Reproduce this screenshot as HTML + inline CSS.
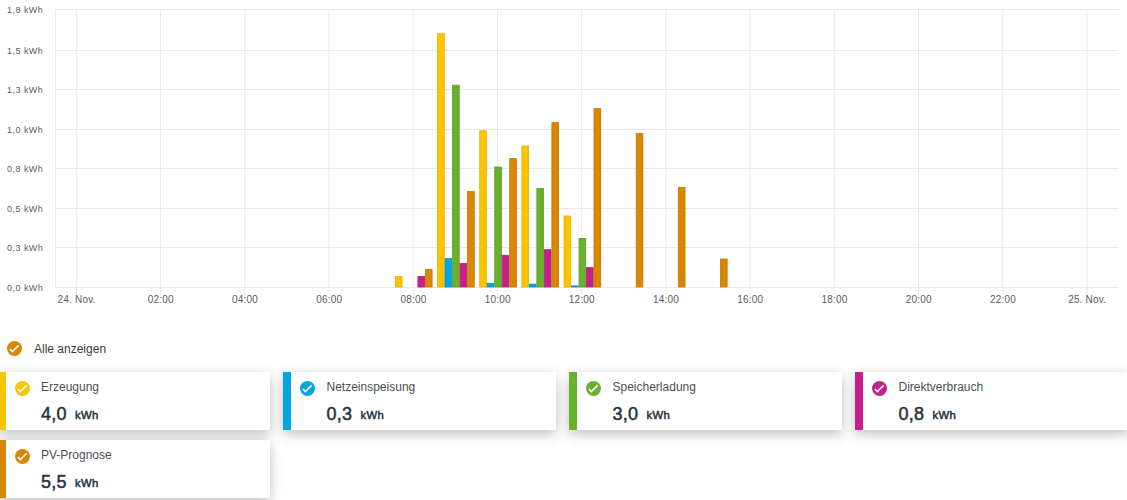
<!DOCTYPE html>
<html><head><meta charset="utf-8">
<style>
html,body{margin:0;padding:0;background:#fff;}
body{width:1127px;height:500px;position:relative;overflow:hidden;font-family:"Liberation Sans",sans-serif;}
#chart{position:absolute;left:0;top:0;}
.al{font-family:"Liberation Sans",sans-serif;font-size:10px;letter-spacing:0.2px;fill:#5b5b5b;}
.yl{font-size:9px;letter-spacing:0.45px;}
.legend{position:absolute;left:7px;top:341px;height:15px;}
.legend .chk{left:0;top:0;}
.legend .lt{position:absolute;left:27px;top:1px;font-size:12px;line-height:15px;color:#3c3c3c;white-space:nowrap;}
.chk{position:absolute;display:block;}
.card{position:absolute;width:273px;height:58px;background:#fff;box-shadow:0 6px 12px rgba(0,0,0,0.18), 0 0 10px rgba(0,0,0,0.08);}
.card .bar{position:absolute;left:0;top:0;width:8px;height:58px;}
.card .ttl{position:absolute;left:43.5px;top:8px;font-size:12px;line-height:15px;color:#4a4f55;white-space:nowrap;}
.card .val{position:absolute;left:43.5px;top:32px;font-size:18px;line-height:20px;font-weight:normal;letter-spacing:0.3px;-webkit-text-stroke:0.5px #263340;color:#263340;white-space:nowrap;}
.card .unit{font-size:11.3px;letter-spacing:0.35px;margin-left:8px;font-weight:normal;-webkit-text-stroke:0.5px #263340;position:relative;top:-1px;}
</style></head><body>
<svg id="chart" width="1127" height="320" viewBox="0 0 1127 320">
<line x1="55" y1="9.5" x2="1118.5" y2="9.5" stroke="#e8e8e8" stroke-width="1"/>
<line x1="55" y1="50.5" x2="1118.5" y2="50.5" stroke="#e8e8e8" stroke-width="1"/>
<line x1="55" y1="89.5" x2="1118.5" y2="89.5" stroke="#e8e8e8" stroke-width="1"/>
<line x1="55" y1="129.5" x2="1118.5" y2="129.5" stroke="#e8e8e8" stroke-width="1"/>
<line x1="55" y1="168.5" x2="1118.5" y2="168.5" stroke="#e8e8e8" stroke-width="1"/>
<line x1="55" y1="208.5" x2="1118.5" y2="208.5" stroke="#e8e8e8" stroke-width="1"/>
<line x1="55" y1="247.5" x2="1118.5" y2="247.5" stroke="#e8e8e8" stroke-width="1"/>
<line x1="55" y1="287.5" x2="1118.5" y2="287.5" stroke="#e8e8e8" stroke-width="1"/>
<line x1="55.5" y1="9.4" x2="55.5" y2="287.8" stroke="#e8e8e8" stroke-width="1"/>
<line x1="76.32" y1="9.4" x2="76.32" y2="294.5" stroke="#e8e8e8" stroke-width="1"/>
<line x1="160.54" y1="9.4" x2="160.54" y2="294.5" stroke="#e8e8e8" stroke-width="1"/>
<line x1="244.76" y1="9.4" x2="244.76" y2="294.5" stroke="#e8e8e8" stroke-width="1"/>
<line x1="328.98" y1="9.4" x2="328.98" y2="294.5" stroke="#e8e8e8" stroke-width="1"/>
<line x1="413.2" y1="9.4" x2="413.2" y2="294.5" stroke="#e8e8e8" stroke-width="1"/>
<line x1="497.42" y1="9.4" x2="497.42" y2="294.5" stroke="#e8e8e8" stroke-width="1"/>
<line x1="581.64" y1="9.4" x2="581.64" y2="294.5" stroke="#e8e8e8" stroke-width="1"/>
<line x1="665.86" y1="9.4" x2="665.86" y2="294.5" stroke="#e8e8e8" stroke-width="1"/>
<line x1="750.08" y1="9.4" x2="750.08" y2="294.5" stroke="#e8e8e8" stroke-width="1"/>
<line x1="834.3" y1="9.4" x2="834.3" y2="294.5" stroke="#e8e8e8" stroke-width="1"/>
<line x1="918.52" y1="9.4" x2="918.52" y2="294.5" stroke="#e8e8e8" stroke-width="1"/>
<line x1="1002.74" y1="9.4" x2="1002.74" y2="294.5" stroke="#e8e8e8" stroke-width="1"/>
<line x1="1086.96" y1="9.4" x2="1086.96" y2="294.5" stroke="#e8e8e8" stroke-width="1"/>
<rect x="395.42" y="276.5" width="6.7" height="10.5" fill="#fcc400" stroke="#e6b000" stroke-width="0.8"/>
<rect x="417.92" y="276.5" width="6.7" height="10.5" fill="#c8208a" stroke="#b21c7a" stroke-width="0.8"/>
<rect x="425.42" y="269.4" width="6.7" height="17.6" fill="#d98600" stroke="#c47900" stroke-width="0.8"/>
<rect x="437.57" y="33.7" width="6.7" height="253.3" fill="#fcc400" stroke="#e6b000" stroke-width="0.8"/>
<rect x="445.07" y="258.6" width="6.7" height="28.4" fill="#00a5e2" stroke="#0094cc" stroke-width="0.8"/>
<rect x="452.57" y="85.2" width="6.7" height="201.8" fill="#6ab02c" stroke="#5f9e27" stroke-width="0.8"/>
<rect x="460.07" y="263.6" width="6.7" height="23.4" fill="#c8208a" stroke="#b21c7a" stroke-width="0.8"/>
<rect x="467.57" y="191.6" width="6.7" height="95.4" fill="#d98600" stroke="#c47900" stroke-width="0.8"/>
<rect x="479.72" y="130.8" width="6.7" height="156.2" fill="#fcc400" stroke="#e6b000" stroke-width="0.8"/>
<rect x="487.22" y="283.5" width="6.7" height="3.5" fill="#00a5e2" stroke="#0094cc" stroke-width="0.8"/>
<rect x="494.72" y="167.0" width="6.7" height="120.0" fill="#6ab02c" stroke="#5f9e27" stroke-width="0.8"/>
<rect x="502.22" y="255.3" width="6.7" height="31.7" fill="#c8208a" stroke="#b21c7a" stroke-width="0.8"/>
<rect x="509.72" y="158.6" width="6.7" height="128.4" fill="#d98600" stroke="#c47900" stroke-width="0.8"/>
<rect x="521.87" y="146.0" width="6.7" height="141.0" fill="#fcc400" stroke="#e6b000" stroke-width="0.8"/>
<rect x="529.37" y="284.1" width="6.7" height="2.9" fill="#00a5e2" stroke="#0094cc" stroke-width="0.8"/>
<rect x="536.87" y="188.5" width="6.7" height="98.5" fill="#6ab02c" stroke="#5f9e27" stroke-width="0.8"/>
<rect x="544.37" y="249.7" width="6.7" height="37.3" fill="#c8208a" stroke="#b21c7a" stroke-width="0.8"/>
<rect x="551.87" y="122.6" width="6.7" height="164.4" fill="#d98600" stroke="#c47900" stroke-width="0.8"/>
<rect x="564.02" y="216.0" width="6.7" height="71.0" fill="#fcc400" stroke="#e6b000" stroke-width="0.8"/>
<rect x="571.52" y="285.9" width="6.7" height="1.1" fill="#00a5e2" stroke="#0094cc" stroke-width="0.8"/>
<rect x="579.02" y="238.4" width="6.7" height="48.6" fill="#6ab02c" stroke="#5f9e27" stroke-width="0.8"/>
<rect x="586.52" y="267.6" width="6.7" height="19.4" fill="#c8208a" stroke="#b21c7a" stroke-width="0.8"/>
<rect x="594.02" y="108.6" width="6.7" height="178.4" fill="#d98600" stroke="#c47900" stroke-width="0.8"/>
<rect x="636.17" y="133.3" width="6.7" height="153.7" fill="#d98600" stroke="#c47900" stroke-width="0.8"/>
<rect x="678.32" y="187.3" width="6.7" height="99.7" fill="#d98600" stroke="#c47900" stroke-width="0.8"/>
<rect x="720.47" y="259.0" width="6.7" height="28.0" fill="#d98600" stroke="#c47900" stroke-width="0.8"/>
<text x="43.25" y="290.7" text-anchor="end" class="al yl">0,0 kWh</text>
<text x="43.25" y="250.7" text-anchor="end" class="al yl">0,3 kWh</text>
<text x="43.25" y="211.7" text-anchor="end" class="al yl">0,5 kWh</text>
<text x="43.25" y="171.7" text-anchor="end" class="al yl">0,8 kWh</text>
<text x="43.25" y="132.7" text-anchor="end" class="al yl">1,0 kWh</text>
<text x="43.25" y="92.7" text-anchor="end" class="al yl">1,3 kWh</text>
<text x="43.25" y="53.7" text-anchor="end" class="al yl">1,5 kWh</text>
<text x="43.25" y="12.7" text-anchor="end" class="al yl">1,8 kWh</text>
<text x="76.57" y="302.8" text-anchor="middle" class="al">24. Nov.</text>
<text x="160.79" y="302.8" text-anchor="middle" class="al">02:00</text>
<text x="245.01" y="302.8" text-anchor="middle" class="al">04:00</text>
<text x="329.23" y="302.8" text-anchor="middle" class="al">06:00</text>
<text x="413.45" y="302.8" text-anchor="middle" class="al">08:00</text>
<text x="497.67" y="302.8" text-anchor="middle" class="al">10:00</text>
<text x="581.89" y="302.8" text-anchor="middle" class="al">12:00</text>
<text x="666.11" y="302.8" text-anchor="middle" class="al">14:00</text>
<text x="750.33" y="302.8" text-anchor="middle" class="al">16:00</text>
<text x="834.55" y="302.8" text-anchor="middle" class="al">18:00</text>
<text x="918.77" y="302.8" text-anchor="middle" class="al">20:00</text>
<text x="1002.99" y="302.8" text-anchor="middle" class="al">22:00</text>
<text x="1087.21" y="302.8" text-anchor="middle" class="al">25. Nov.</text>
</svg>
<div class="legend"><svg class="chk" style="left:0.0px;top:0.0px" width="15" height="15" viewBox="0 0 15 15"><circle cx="7.5" cy="7.5" r="7.5" fill="#d98600"/><path d="M2.9 8.0 L5.3 10.5 L11.7 4.4" fill="none" stroke="#fff" stroke-width="1.6"/></svg><span class="lt">Alle anzeigen</span></div>
<div class="card" style="left:-2px;top:372px;width:272px">
  <div class="bar" style="background:#fcc400"></div>
  <svg class="chk" style="left:17.2px;top:9.0px" width="15" height="15" viewBox="0 0 15 15"><circle cx="7.5" cy="7.5" r="7.5" fill="#fcc400"/><path d="M2.9 8.0 L5.3 10.5 L11.7 4.4" fill="none" stroke="#fff" stroke-width="1.6"/></svg>
  <div class="ttl" style="left:43px">Erzeugung</div>
  <div class="val" style="left:43px">4,0<span class="unit">kWh</span></div>
</div>
<div class="card" style="left:283px;top:372px;width:273px">
  <div class="bar" style="background:#00a5e2"></div>
  <svg class="chk" style="left:17.2px;top:9.0px" width="15" height="15" viewBox="0 0 15 15"><circle cx="7.5" cy="7.5" r="7.5" fill="#00a5e2"/><path d="M2.9 8.0 L5.3 10.5 L11.7 4.4" fill="none" stroke="#fff" stroke-width="1.6"/></svg>
  <div class="ttl">Netzeinspeisung</div>
  <div class="val">0,3<span class="unit">kWh</span></div>
</div>
<div class="card" style="left:569px;top:372px;width:273px">
  <div class="bar" style="background:#6ab02c"></div>
  <svg class="chk" style="left:17.2px;top:9.0px" width="15" height="15" viewBox="0 0 15 15"><circle cx="7.5" cy="7.5" r="7.5" fill="#6ab02c"/><path d="M2.9 8.0 L5.3 10.5 L11.7 4.4" fill="none" stroke="#fff" stroke-width="1.6"/></svg>
  <div class="ttl">Speicherladung</div>
  <div class="val">3,0<span class="unit">kWh</span></div>
</div>
<div class="card" style="left:855px;top:372px;width:273px">
  <div class="bar" style="background:#c8208a"></div>
  <svg class="chk" style="left:17.2px;top:9.0px" width="15" height="15" viewBox="0 0 15 15"><circle cx="7.5" cy="7.5" r="7.5" fill="#c8208a"/><path d="M2.9 8.0 L5.3 10.5 L11.7 4.4" fill="none" stroke="#fff" stroke-width="1.6"/></svg>
  <div class="ttl">Direktverbrauch</div>
  <div class="val">0,8<span class="unit">kWh</span></div>
</div>
<div class="card" style="left:-2px;top:440px;width:272px">
  <div class="bar" style="background:#d98600"></div>
  <svg class="chk" style="left:17.2px;top:9.0px" width="15" height="15" viewBox="0 0 15 15"><circle cx="7.5" cy="7.5" r="7.5" fill="#d98600"/><path d="M2.9 8.0 L5.3 10.5 L11.7 4.4" fill="none" stroke="#fff" stroke-width="1.6"/></svg>
  <div class="ttl" style="left:43px">PV-Prognose</div>
  <div class="val" style="left:43px">5,5<span class="unit">kWh</span></div>
</div>
</body></html>
